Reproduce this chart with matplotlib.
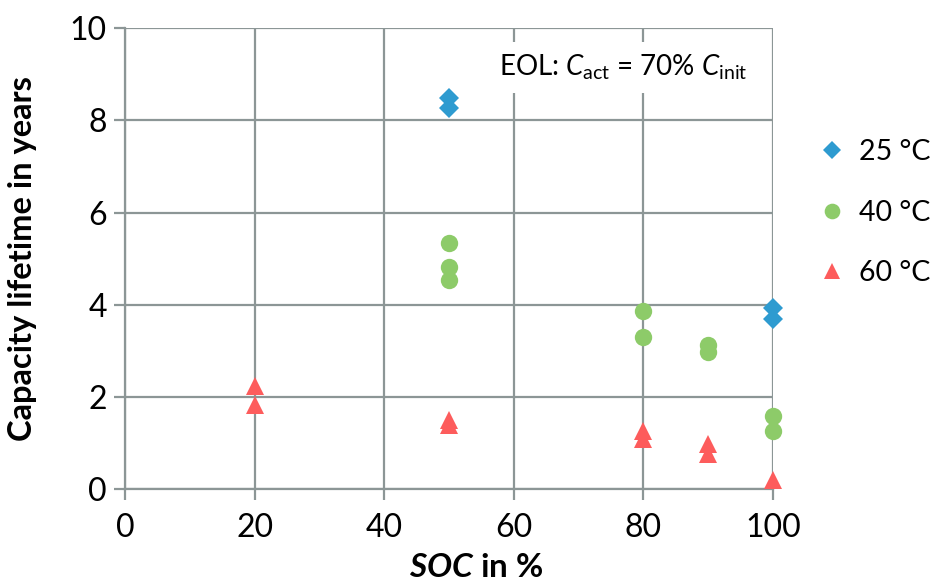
import matplotlib
matplotlib.use("Agg")
from matplotlib import pyplot as plt

# data
soc_25 = [50, 50, 100, 100]
life_25 = [8.48, 8.28, 3.93, 3.69]

soc_40 = [50, 50, 50, 80, 80, 90, 90, 100, 100]
life_40 = [5.34, 4.81, 4.53, 3.87, 3.30, 3.12, 2.98, 1.59, 1.26]

soc_60 = [20, 20, 50, 50, 80, 80, 90, 90, 100]
life_60 = [2.24, 1.83, 1.50, 1.40, 1.26, 1.09, 0.99, 0.76, 0.21]

series = [
    ("25 °C", soc_25, life_25, "D", "#2e9bd0", 10),
    ("40 °C", soc_40, life_40, "o", "#8dcb69", 12.5),
    ("60 °C", soc_60, life_60, "^", "#fd5c5c", 12.5),
]

plt.rcParams["font.family"] = ["Lato", "DejaVu Sans"]
plt.rcParams["mathtext.fontset"] = "custom"
plt.rcParams["mathtext.rm"] = "Lato"
plt.rcParams["mathtext.it"] = "Lato:italic"
plt.rcParams["mathtext.bf"] = "Lato:bold"
plt.rcParams["mathtext.bfit"] = "Lato:bold:italic"

grid_col = "#8c9696"

fig = plt.figure(figsize=(9.41, 5.88), dpi=100)
ax = fig.add_axes([0.1328, 0.168, 0.6887, 0.784])

for label, x, y, marker, color, ms in series:
    ax.plot(x, y, linestyle="none", marker=marker, color=color,
            markersize=ms, markeredgewidth=0, label=label, zorder=3,
            clip_on=False)

ax.set_xlim(0, 100)
ax.set_ylim(0, 10)
ax.set_xticks(range(0, 101, 20))
ax.set_yticks(range(0, 11, 2))
ax.grid(True, color=grid_col, linewidth=1.6)
ax.set_axisbelow(True)
for side in ("top", "right"):
    ax.spines[side].set_visible(False)
for side in ("left", "bottom"):
    ax.spines[side].set_color(grid_col)
    ax.spines[side].set_linewidth(1.6)
ax.tick_params(axis="both", colors=grid_col, length=8, width=1.6,
               labelsize=23, labelcolor="black", pad=5)
ax.tick_params(axis="x", pad=9)

ax.set_ylabel("Capacity lifetime in years", fontsize=23.5, fontweight="bold")
ax.yaxis.set_label_coords(-0.135, 0.5)
ax.set_xlabel(r"$\mathbfit{SOC}$ in %", fontsize=24, fontweight="bold")
ax.xaxis.set_label_coords(0.542, -0.138)

ax.text(0.961, 0.915, r"EOL: $C_\mathrm{act}$ = 70% $C_\mathrm{init}$",
        transform=ax.transAxes, ha="right", va="center", fontsize=20,
        bbox=dict(facecolor="white", edgecolor="none", pad=8), zorder=4)

ax.legend(loc="center left", bbox_to_anchor=(1.03, 0.6), frameon=False,
          fontsize=20.5, handletextpad=0.45, labelspacing=1.2,
          markerscale=0.9, handlelength=1.0)

fig.savefig("out.png", dpi=100)
